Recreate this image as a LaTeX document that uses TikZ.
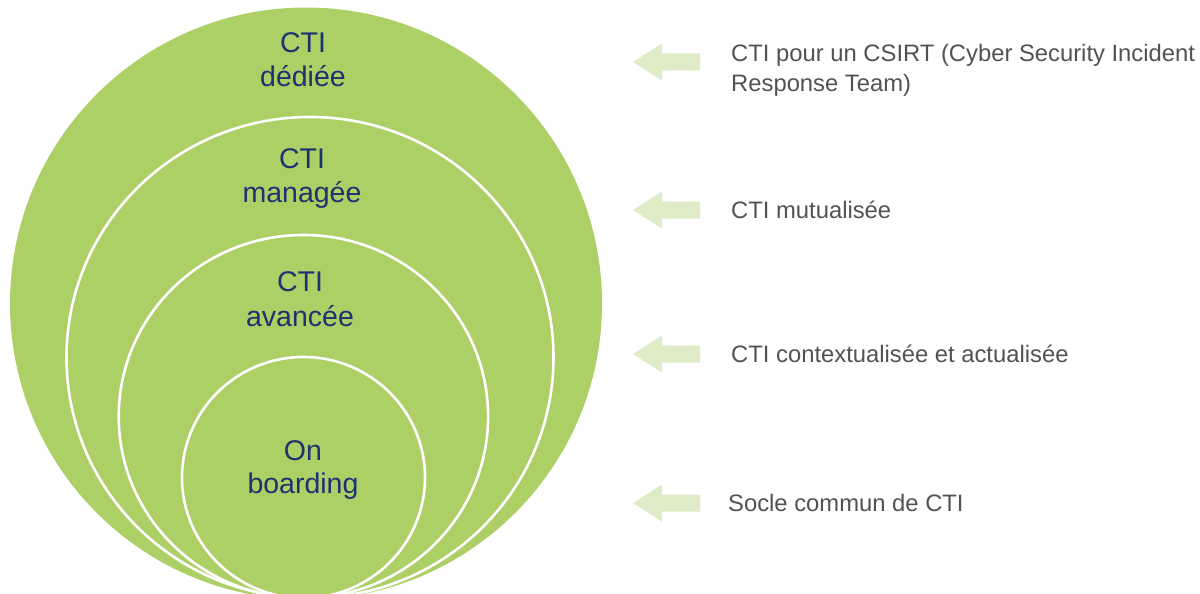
\documentclass[tikz,border=0pt]{standalone}
\usepackage{fontspec}
\setmainfont{Liberation Sans}
\definecolor{ringgreen}{RGB}{172,208,102}
\definecolor{navy}{RGB}{30,50,112}
\definecolor{arrowgreen}{RGB}{221,235,199}
\definecolor{textgray}{RGB}{82,82,82}
\tikzset{
  ring/.style={fill=ringgreen, draw=white, line width=2.6pt},
  ringlabel/.style={anchor=base, text=navy, inner sep=0pt, font=\fontsize{28.5}{34}\selectfont},
  sidetext/.style={anchor=base west, text=textgray, inner sep=0pt, font=\fontsize{23.8}{30}\selectfont},
  leftarrow/.pic={\fill[arrowgreen] (0,0) -- (29,-18.5) -- (29,-8.5) -- (67,-8.5) -- (67,8.5) -- (29,8.5) -- (29,18.5) -- cycle;}
}
\begin{document}
\begin{tikzpicture}[x=1pt,y=-1pt]
\useasboundingbox (0,0) rectangle (1200,594);
\clip (0,0) rectangle (1200,594);
% rings
\fill[ringgreen] (306,303.5) ellipse [x radius=296pt, y radius=296pt];
\draw[ring] (310,357.5) ellipse [x radius=243.5pt, y radius=240.5pt];
\draw[ring] (303.4,416.5) ellipse [x radius=184.7pt, y radius=181.5pt];
\draw[ring] (303.5,477.5) ellipse [x radius=121.5pt, y radius=120.5pt];
% ring labels
\node[ringlabel] (d1) at (303,53) {CTI};
\node[ringlabel] (d2) at (303,87) {dédiée};
\node[ringlabel] (m1) at (302,168) {CTI};
\node[ringlabel] (m2) at (302,202) {managée};
\node[ringlabel] (a1) at (300,291) {CTI};
\node[ringlabel] (a2) at (300,326) {avancée};
\node[ringlabel] (o1) at (303,460) {On};
\node[ringlabel] (o2) at (303,493) {boarding};
% side arrows
\pic at (633,62) {leftarrow};
\pic at (633,210) {leftarrow};
\pic at (633,354) {leftarrow};
\pic at (633,503) {leftarrow};
% side texts
\node[sidetext] (t1) at (731,62) {CTI pour un CSIRT (Cyber Security Incident};
\node[sidetext] (t1b) at (731,92) {Response Team)};
\node[sidetext] (t2) at (731,218) {CTI mutualisée};
\node[sidetext] (t3) at (731,362) {CTI contextualisée et actualisée};
\node[sidetext] (t4) at (728,511) {Socle commun de CTI};
\end{tikzpicture}
\end{document}
